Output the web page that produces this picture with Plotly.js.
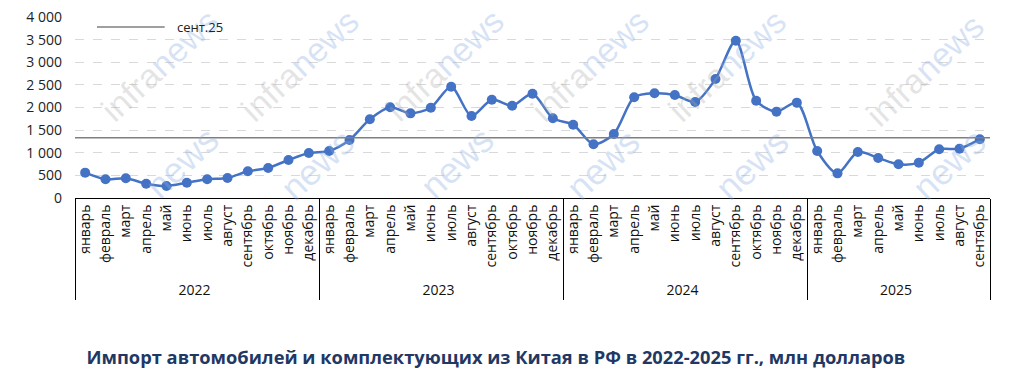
<!DOCTYPE html>
<html>
<head>
<meta charset="utf-8">
<script src="https://cdn.plot.ly/plotly-3.0.1.min.js"></script>
<style>html,body{margin:0;padding:0;background:#fff;} #chart{width:1024px;height:385px;}</style>
</head>
<body>
<div id="chart"></div>
<script>
const years = ["2022", "2023", "2024", "2025"];
const months = ["январь","февраль","март","апрель","май","июнь","июль","август","сентябрь","октябрь","ноябрь","декабрь"];
const monthsPerYear = [12, 12, 12, 9];
const imports2022 = [560, 413, 435, 316, 265, 338, 413, 442, 590, 663, 840, 995];
const imports2023 = [1040, 1282, 1739, 2004, 1871, 1996, 2460, 1812, 2173, 2040, 2305, 1761];
const imports2024 = [1620, 1187, 1414, 2225, 2314, 2276, 2122, 2630, 3477, 2151, 1908, 2107];
const imports2025 = [1039, 545, 1017, 884, 745, 781, 1076, 1090, 1300];
const sept25Level = 1330;
const legendName = "сент.25";
const titleText = "Импорт автомобилей и комплектующих из Китая в РФ в 2022-2025 гг., млн долларов";
const watermarkA = "infra", watermarkB = "news";

const xYear = [], xMonth = [];
years.forEach((y, i) => {
  for (let m = 0; m < monthsPerYear[i]; m++) { xYear.push(y); xMonth.push(months[m]); }
});
const values = [].concat(imports2022, imports2023, imports2024, imports2025);
const nPoints = values.length;

const font = "Open Sans, Liberation Sans, sans-serif";

const traces = [
  {
    x: [0, 1], y: [sept25Level, sept25Level], xaxis: "x2", type: "scatter", mode: "lines",
    name: legendName, line: {color: "#7F7F7F", width: 1.5}, showlegend: false, hoverinfo: "skip"
  },
  {
    x: [xYear, xMonth], y: values, type: "scatter", mode: "lines+markers",
    line: {color: "#4472C4", width: 2.5, shape: "spline", smoothing: 0.8},
    marker: {color: "#4472C4", size: 10},
    showlegend: false, hoverinfo: "y"
  }
];

// watermark layout (positions are styling, not data)
const wmGray = "rgba(170,170,170,0.33)", wmBlue = "rgba(140,175,225,0.35)";
const wmUpper = [[0.093,0.735],[0.246,0.735],[0.404,0.735],[0.563,0.735],[0.713,0.735],[0.929,0.707]];
const wmLower = [[0.117,0.195],[0.265,0.185],[0.418,0.195],[0.577,0.185],[0.74,0.185],[0.955,0.185]];
const annotations = [];
wmUpper.forEach(p => annotations.push({
  xref: "paper", yref: "paper", x: p[0], y: p[1], xanchor: "center", yanchor: "middle",
  showarrow: false, textangle: -43,
  text: "<span style='color:" + wmGray + "'>" + watermarkA + "</span><span style='color:" + wmBlue + "'>" + watermarkB + "</span>",
  font: {family: "Liberation Sans, sans-serif", size: 34}
}));
wmLower.forEach(p => annotations.push({
  xref: "paper", yref: "paper", x: p[0], y: p[1], xanchor: "center", yanchor: "middle",
  showarrow: false, textangle: -43,
  text: watermarkB, font: {family: "Liberation Sans, sans-serif", size: 36, color: wmBlue}
}));
// legend entry
annotations.push({
  xref: "paper", yref: "paper", x: 0.109, y: 0.945, xanchor: "left", yanchor: "middle",
  showarrow: false, text: legendName, font: {family: font, size: 13, color: "#222"}
});

const layout = {
  width: 1024, height: 385,
  margin: {l: 75, r: 34, t: 17, b: 187},
  paper_bgcolor: "#fff", plot_bgcolor: "#fff",
  separators: ", ",
  font: {family: font, size: 13, color: "#222"},
  showlegend: false,
  xaxis: {
    type: "multicategory", range: [-0.5, nPoints - 0.5],
    showline: true, linecolor: "#000", linewidth: 1,
    showgrid: false, ticks: "", tickangle: -90,
    showdividers: true, dividercolor: "#000", dividerwidth: 1,
    tickfont: {family: font, size: 14, color: "#111"}
  },
  xaxis2: {overlaying: "x", range: [0, 1], visible: false},
  yaxis: {
    range: [0, 4000], dtick: 500, tickformat: ",d",
    showgrid: true, gridcolor: "#D9D9D9", griddash: "dash", gridwidth: 1,
    zeroline: false, showline: false, ticks: "", ticklabelstandoff: 12,
    tickfont: {family: font, size: 14, color: "#222"}
  },
  shapes: [{
    type: "line", xref: "paper", yref: "paper", x0: 0.024, x1: 0.098, y0: 0.945, y1: 0.945,
    line: {color: "#7F7F7F", width: 1.5}
  }],
  annotations: annotations,
  title: {
    text: "<b>" + titleText + "</b>",
    font: {family: font, size: 18.3, color: "#1F3864"},
    xref: "paper", x: 0.46, xanchor: "center",
    yref: "container", y: 0.072, yanchor: "middle"
  }
};

Plotly.newPlot("chart", traces, layout, {displayModeBar: false, staticPlot: true});
</script>
</body>
</html>
